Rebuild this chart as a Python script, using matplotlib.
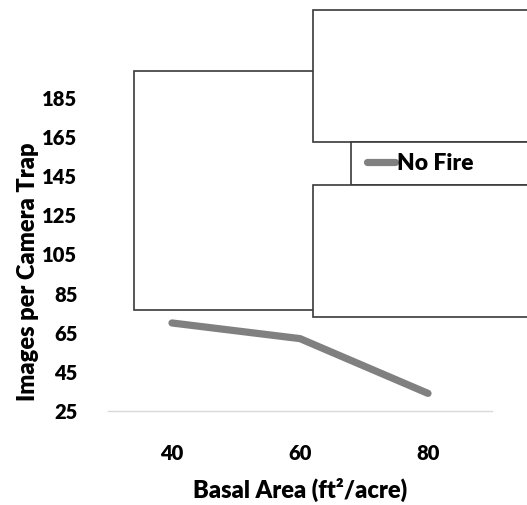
import matplotlib
matplotlib.use("Agg")
import matplotlib.pyplot as plt
from matplotlib.patches import Rectangle

plt.rcParams['font.family'] = ['Lato', 'DejaVu Sans']
plt.rcParams['font.weight'] = 'heavy'

basal_area = ['40', '60', '80']
images_no_fire = [70, 62, 34]
y_ticks = [25, 45, 65, 85, 105, 125, 145, 165, 185]

W, H = 527, 505
fig = plt.figure(figsize=(W / 100, H / 100), dpi=100)

# axes placed in pixel terms
left, right, bottom, top = 108, 492, 411, 98
ax = fig.add_axes([left / W, 1 - bottom / H, (right - left) / W, (bottom - top) / H])

x = range(len(basal_area))
ax.plot(x, images_no_fire, color='#808080', lw=5.2, solid_capstyle='round',
        solid_joinstyle='round', label='No Fire', zorder=1)
ax.set_xlim(-0.5, len(basal_area) - 0.5)
ax.set_ylim(25, 185)
ax.set_xticks(list(x))
ax.set_xticklabels(basal_area)
ax.set_yticks(y_ticks)
ax.tick_params(length=0, labelsize=14.5, pad=24)
ax.tick_params(axis='y', pad=22)
for lab in ax.get_xticklabels() + ax.get_yticklabels():
    lab.set_fontweight('heavy')
for s in ['top', 'right', 'left']:
    ax.spines[s].set_visible(False)
ax.spines['bottom'].set_color('#d9d9d9')
ax.spines['bottom'].set_linewidth(1)

ax.set_xlabel('Basal Area (ft²/acre)', fontsize=17, fontweight='heavy', va='center')
ax.set_ylabel('Images per Camera Trap', fontsize=17, fontweight='heavy', va='center')
ax.xaxis.set_label_coords((300 - left) / (right - left), (bottom - 490) / (bottom - top))
ax.yaxis.set_label_coords((28 - left) / (right - left), (bottom - 272) / (bottom - top))


def box(x0, y0, x1, y1, z):
    fig.patches.append(Rectangle((x0 / W, 1 - y1 / H), (x1 - x0) / W, (y1 - y0) / H,
                                 transform=fig.transFigure, facecolor='white',
                                 edgecolor='#3a3a3a', lw=1.2, zorder=z))


# white panels sitting over the plot; the first one runs underneath the others
box(134, 71, 400, 310, 5)
box(313, 10, 540, 142, 6)
box(351, 142, 540, 185, 6)
box(313, 185, 540, 317, 6)

fig.lines.append(plt.Line2D([367 / W, 395 / W], [1 - 162 / H, 1 - 162 / H],
                            transform=fig.transFigure, color='#808080', lw=5.2,
                            solid_capstyle='round', zorder=7))
fig.text(397 / W, 1 - 163 / H, 'No Fire', fontsize=16.5, fontweight='heavy',
         va='center', ha='left', zorder=7)

fig.savefig('out.png', dpi=100)
